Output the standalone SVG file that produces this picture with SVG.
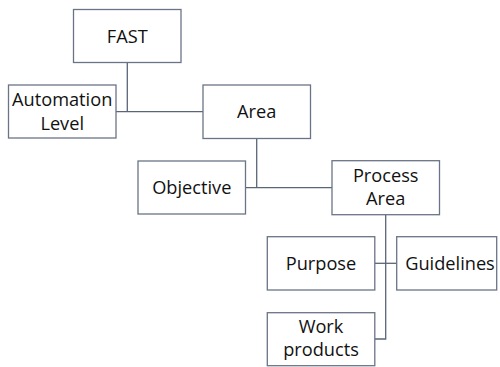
<svg xmlns="http://www.w3.org/2000/svg" width="500" height="367" viewBox="0 0 500 367">
<style>
.box{fill:#fff;stroke:#6a7486;stroke-width:1.3}
.ln{fill:none;stroke:#5a6578;stroke-width:1.3}
text{font-family:"Open Sans","Noto Sans",sans-serif;font-size:18.2px;fill:#111;text-anchor:middle}
</style>
<rect width="500" height="367" fill="#fff"/>
<g id="connectors">
<polyline class="ln" points="127.3,62.7 127.3,111.7"/>
<polyline class="ln" points="116,111.7 203,111.7"/>
<polyline class="ln" points="256.7,138.5 256.7,187.7"/>
<polyline class="ln" points="246,187.7 332,187.7"/>
<polyline class="ln" points="385.7,215 385.7,339 374.7,339"/>
<polyline class="ln" points="374.7,263.3 396.7,263.3"/>
</g>
<g id="fast"><rect class="box" x="73.5" y="9.5" width="107.5" height="53"/><text x="127.3" y="42.7">FAST</text></g>
<g id="automation"><rect class="box" x="8.5" y="85" width="107.5" height="53"/><text x="62.2" y="106.2">Automation</text><text x="62.2" y="129.7">Level</text></g>
<g id="area"><rect class="box" x="203" y="85" width="107.5" height="53.5"/><text x="256.7" y="117.7">Area</text></g>
<g id="objective"><rect class="box" x="138" y="161" width="107.5" height="53"/><text x="191.8" y="194">Objective</text></g>
<g id="process"><rect class="box" x="332" y="160.7" width="107.5" height="54"/><text x="385.7" y="181.5">Process</text><text x="385.7" y="205">Area</text></g>
<g id="purpose"><rect class="box" x="267.3" y="236.7" width="107.5" height="53.3"/><text x="321" y="270">Purpose</text></g>
<g id="guidelines"><rect class="box" x="396.7" y="236.7" width="100" height="53.3"/><text x="450" y="270">Guidelines</text></g>
<g id="work"><rect class="box" x="267.3" y="312.7" width="107.5" height="53"/><text x="321" y="332.5">Work</text><text x="321" y="356">products</text></g>
</svg>
